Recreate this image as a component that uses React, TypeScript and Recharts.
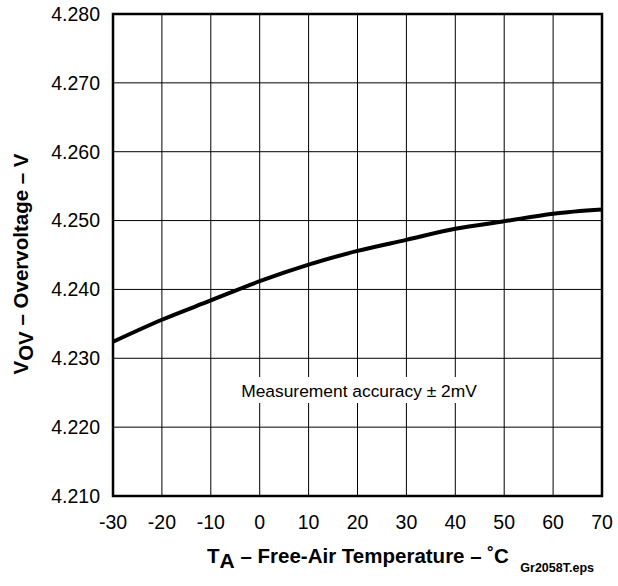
import React from "react";
import { LineChart, Line, XAxis, YAxis, CartesianGrid, ReferenceArea } from "recharts";

const temperatures = [-30, -20, -10, 0, 10, 20, 30, 40, 50, 60, 70];
const overvoltage = [4.2324, 4.2356, 4.2384, 4.2412, 4.2436, 4.2456, 4.2472, 4.2488, 4.2499, 4.2510, 4.2516];
const xTicks = [-30, -20, -10, 0, 10, 20, 30, 40, 50, 60, 70];
const yTicks = [4.21, 4.22, 4.23, 4.24, 4.25, 4.26, 4.27, 4.28];

const data = temperatures.map((t, i) => ({ t, v: overvoltage[i] }));

const FONT = "'Liberation Sans', Arial, Helvetica, sans-serif";
const W = 618;
const H = 586;

export default function App() {
  return (
    <div style={{ position: "absolute", left: 0, top: 0, width: W, height: H, background: "#fff" }}>
      <LineChart width={W} height={H} data={data} margin={{ top: 14, right: 16, bottom: 0, left: 0 }}>
        <CartesianGrid stroke="#000" strokeWidth={1} horizontal vertical />
        <XAxis
          dataKey="t"
          type="number"
          domain={[-30, 70]}
          ticks={xTicks}
          height={90}
          tickLine={false}
          axisLine={false}
          tickSize={0}
          tickMargin={19}
          tick={{ fill: "#000", fontSize: 19.5, fontFamily: FONT }}
        />
        <YAxis
          type="number"
          domain={[4.21, 4.28]}
          ticks={yTicks}
          width={113}
          tickLine={false}
          axisLine={false}
          tickSize={0}
          tickMargin={13}
          tickFormatter={(v: number) => v.toFixed(3)}
          tick={{ fill: "#000", fontSize: 19.5, fontFamily: FONT }}
        />
        <ReferenceArea x1={-30} x2={70} y1={4.21} y2={4.28} fill="none" fillOpacity={0} stroke="#000" strokeWidth={2.5} ifOverflow="visible" />
        <Line
          type="monotone"
          dataKey="v"
          stroke="#000"
          strokeWidth={4}
          dot={false}
          isAnimationActive={false}
        />
      </LineChart>
      <svg width={W} height={H} style={{ position: "absolute", left: 0, top: 0, pointerEvents: "none" }}>
        <text x={358} y={563} textAnchor="middle" fontFamily={FONT} fontWeight="bold" fontSize={20.5} fill="#000">
          T<tspan fontSize={21} dy={5}>A</tspan>
          <tspan dy={-5}> – Free-Air Temperature – ˚C</tspan>
        </text>
        <text
          x={28}
          y={264}
          transform="rotate(-90 28 264)"
          textAnchor="middle"
          fontFamily={FONT}
          fontWeight="bold"
          fontSize={20.5}
          fill="#000"
        >
          V<tspan dy={5}>OV</tspan>
          <tspan dy={-5}> – Overvoltage – V</tspan>
        </text>
        <rect x={237} y={377} width={244} height={26} fill="#fff" />
        <text x={359} y={397} textAnchor="middle" fontFamily={FONT} fontSize={17.4} fill="#000">
          Measurement accuracy ± 2mV
        </text>
        <text x={594} y={571.5} textAnchor="end" fontFamily={FONT} fontWeight="bold" fontSize={12.5} fill="#000">
          Gr2058T.eps
        </text>
      </svg>
    </div>
  );
}
